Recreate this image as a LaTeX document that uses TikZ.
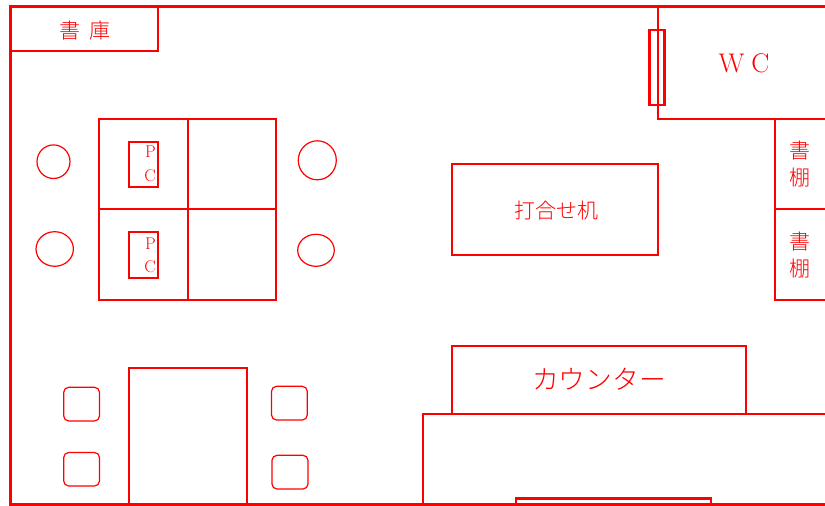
\documentclass[tikz,border=0pt]{standalone}
\usepackage{fontspec}
\newfontfamily\cjk{Noto Sans CJK JP Light}
\tikzset{
  wall/.style={draw=red,line width=3.2pt},
  heavy/.style={draw=red,line width=2.3pt},
  thickbox/.style={draw=red,line width=2.8pt},
  seat/.style={draw=red,line width=1.2pt},
  chairbox/.style={draw=red,line width=1.2pt,rounded corners=5pt},
  lab/.style={text=red,inner sep=0pt,anchor=center},
}
\begin{document}
\begin{tikzpicture}[x=1pt,y=-1pt]
\useasboundingbox (0,0) rectangle (825,506);
\clip (0,0) rectangle (825,506);
% walls
\draw[wall] (830,6.5) -- (10.5,6.5) -- (10.5,504.5) -- (830,504.5);
% store room
\draw[heavy] (10.5,51) -- (158,51) -- (158,6.5);
\node[lab] (shoko) at (85,31) {\cjk\fontsize{21}{21}\selectfont 書\hspace{9pt}庫};
% desk block
\draw[heavy] (99,119) rectangle (276,300);
\draw[heavy] (188,119) -- (188,300);
\draw[heavy] (99,209) -- (276,209);
\draw[thickbox] (129,142) rectangle (158,187);
\draw[thickbox] (129,232) rectangle (158,278);
\node[lab] (p1) at (150.5,152) {\fontsize{17}{17}\selectfont P};
\node[lab] (c1) at (150,176) {\fontsize{17}{17}\selectfont C};
\node[lab] (p2) at (150.5,243.5) {\fontsize{17}{17}\selectfont P};
\node[lab] (c2) at (150,267) {\fontsize{17}{17}\selectfont C};
% stools
\draw[seat] (53.5,161.7) ellipse [x radius=16.5,y radius=16.8];
\draw[seat] (317.3,160.3) ellipse [x radius=19,y radius=19.5];
\draw[seat] (54.7,249) ellipse [x radius=18.7,y radius=17.3];
\draw[seat] (316,250.3) ellipse [x radius=18.3,y radius=16];
% WC
\draw[heavy] (658,6.5) -- (658,119) -- (830,119);
\draw[thickbox] (649.3,30) rectangle (664.3,105);
\node[lab] (wc) at (744,63) {\fontsize{27}{27}\selectfont W\hspace{7pt}C};
% shelves
\draw[heavy] (830,119) -- (775,119) -- (775,300) -- (830,300);
\draw[heavy] (775,209) -- (830,209);
\node[lab] (sho1) at (799.5,151) {\cjk\fontsize{21}{21}\selectfont 書};
\node[lab] (tana1) at (799.5,178) {\cjk\fontsize{21}{21}\selectfont 棚};
\node[lab] (sho2) at (799.5,242) {\cjk\fontsize{21}{21}\selectfont 書};
\node[lab] (tana2) at (799.5,269) {\cjk\fontsize{21}{21}\selectfont 棚};
% meeting table
\draw[heavy] (452,164) rectangle (658,255);
\node[lab] (mtg) at (556,211) {\cjk\fontsize{21}{21}\selectfont 打合せ机};
% counter
\draw[heavy] (452,414) -- (452,346) -- (746,346) -- (746,414);
\draw[heavy] (423,504.5) -- (423,414) -- (830,414);
\draw[thickbox] (516,504.5) -- (516,498.5) -- (711,498.5) -- (711,504.5);
\node[lab] (counter) at (599,379) {\cjk\fontsize{26.7}{26.7}\selectfont カウンター};
% lower table and chairs
\draw[heavy] (129,504.5) -- (129,368) -- (247,368) -- (247,504.5);
\draw[chairbox] (63.7,387.3) rectangle (99.5,421);
\draw[chairbox] (63.7,452.5) rectangle (99.5,486);
\draw[chairbox] (271.5,386.3) rectangle (307.3,420);
\draw[chairbox] (272,455.3) rectangle (308,489);
\end{tikzpicture}
\end{document}
